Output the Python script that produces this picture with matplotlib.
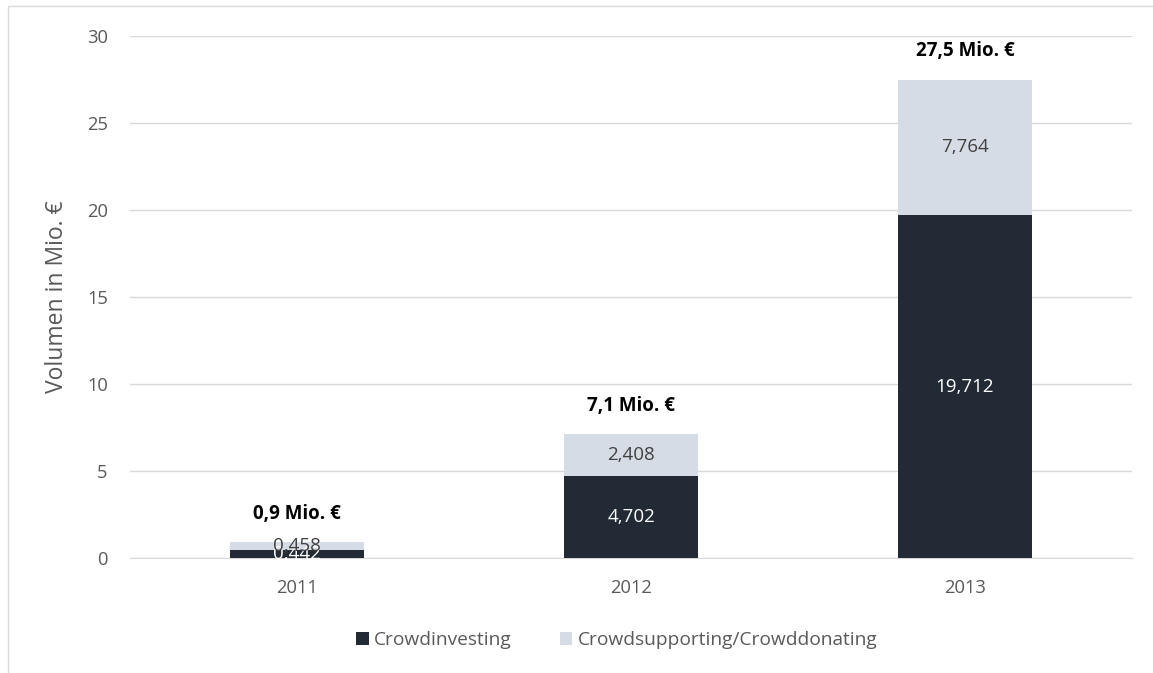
import matplotlib
matplotlib.use("Agg")
import matplotlib.pyplot as plt
from matplotlib.patches import Rectangle

years = ["2011", "2012", "2013"]
crowdinvesting = [0.442, 4.702, 19.712]
crowdsupporting = [0.458, 2.408, 7.764]
totals_labels = ["0,9 Mio. €", "7,1 Mio. €", "27,5 Mio. €"]
yticks = [0, 5, 10, 15, 20, 25, 30]

plt.rcParams['font.family'] = ['Open Sans', 'DejaVu Sans']

W, H = 1153, 673
fig = plt.figure(figsize=(W / 100, H / 100), dpi=100)
ax = fig.add_axes([130 / W, 1 - 558 / H, (1132 - 130) / W, (558 - 36) / H])

dark = "#222a35"
light = "#d6dce5"
x = range(len(years))
width = 0.4
b1 = ax.bar(x, crowdinvesting, width, color=dark, label="Crowdinvesting", zorder=3)
b2 = ax.bar(x, crowdsupporting, width, bottom=crowdinvesting, color=light,
            label="Crowdsupporting/Crowddonating", zorder=3)

def fmt(v):
    return f"{v:.3f}".replace(".", ",")

for i in x:
    ax.text(i, crowdinvesting[i] / 2, fmt(crowdinvesting[i]), ha="center", va="center",
            color="white", fontsize=13.5, zorder=4)
    ax.text(i, crowdinvesting[i] + crowdsupporting[i] / 2, fmt(crowdsupporting[i]),
            ha="center", va="center", color="#404040", fontsize=13.5, zorder=4)
    tot = crowdinvesting[i] + crowdsupporting[i]
    ax.text(i, tot + 1.65, totals_labels[i], ha="center", va="center", color="black",
            fontsize=13.5, fontweight="bold", zorder=4)

ax.set_xlim(-0.5, 2.5)
ax.set_ylim(0, 30)
ax.set_yticks(yticks)
ax.set_xticks(list(x))
ax.set_xticklabels(years)
ax.yaxis.grid(True, color="#d9d9d9", linewidth=1, zorder=0)
ax.set_axisbelow(True)
for s in ["top", "right", "left"]:
    ax.spines[s].set_visible(False)
ax.spines["bottom"].set_color("#d9d9d9")
ax.tick_params(axis="both", length=0, labelsize=13.2, labelcolor="#595959")
ax.tick_params(axis="y", pad=16)
ax.tick_params(axis="x", pad=15)
ax.set_ylabel("Volumen in Mio. €", fontsize=16.5, color="#595959")
ax.yaxis.set_label_coords(-61 / 1002, 0.5)

leg = fig.legend(handles=[b1, b2], loc="center", bbox_to_anchor=(617 / W, 1 - 640 / H),
                 ncol=2, frameon=False, fontsize=13.8, handlelength=0.65, handleheight=0.65,
                 columnspacing=2.5, handletextpad=0.3)
for t in leg.get_texts():
    t.set_color("#595959")

fig.patches.append(Rectangle((8 / W, -0.1), 1.2, 1 - 6 / H + 0.1, transform=fig.transFigure,
                             fill=False, edgecolor="#d9d9d9", linewidth=1))

fig.savefig("out.png", dpi=100)
